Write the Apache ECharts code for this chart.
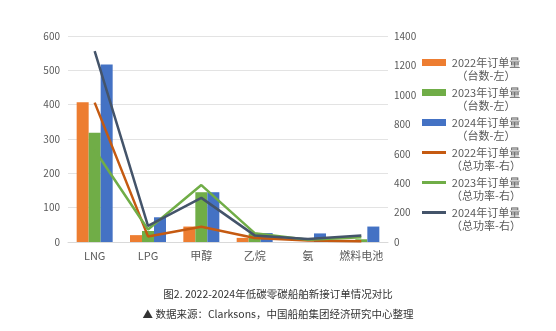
<!DOCTYPE html>
<html><head><meta charset="utf-8">
<script src="https://cdn.jsdelivr.net/npm/echarts@6/dist/echarts.min.js"></script>
<style>html,body{margin:0;padding:0;background:#fff;}#c{width:556px;height:331px;}</style>
</head><body><div id="c"></div>
<script>
const categories = ['LNG','LPG','甲醇','乙烷','氨','燃料电池'];
const units2022 = [407, 20, 45, 12, 0, 0];
const units2023 = [318, 32, 145, 25, 0, 8];
const units2024 = [517, 72, 145, 26, 25, 45];
const power2022 = [947, 38, 103, 27, 10, 5];
const power2023 = [625, 85, 387, 60, 15, 32];
const power2024 = [1297, 110, 300, 45, 20, 45];
const leftTicks = {min: 0, max: 600, interval: 100};
const rightTicks = {min: 0, max: 1400, interval: 200};
const names = ['2022年订单量（台数-左）','2023年订单量（台数-左）','2024年订单量（台数-左）','2022年订单量（总功率-右）','2023年订单量（总功率-右）','2024年订单量（总功率-右）'];
const titleText = '图2. 2022-2024年低碳零碳船舶新接订单情况对比';
const sourceText = '▲ 数据来源：Clarksons，中国船舶集团经济研究中心整理';

const font = '"Noto Sans CJK SC","Noto Sans",sans-serif';
const gray = '#595959';
const legendFmt = n => {
  const i = n.indexOf('（');
  return '{a|' + n.slice(0, i) + '}\n{b|' + n.slice(i) + '}';
};
const legendText = {
  color: gray, fontFamily: font, fontSize: 11, padding: [13,0,0,0],
  rich: {a: {width: 70, align: 'center', fontSize: 11, color: gray, fontFamily: font, lineHeight: 13},
         b: {width: 70, align: 'center', fontSize: 11, color: gray, fontFamily: font, lineHeight: 13}}
};
const chart = echarts.init(document.getElementById('c'));
chart.setOption({
  animation: false,
  backgroundColor: '#fff',
  grid: {left: 68, right: 168, top: 36, bottom: 89},
  title: [
    {text: titleText, left: 'center', top: 284, textStyle: {fontSize: 10.5, fontWeight: 'normal', color: '#333', fontFamily: font}},
    {text: sourceText, left: 'center', top: 304, textStyle: {fontSize: 10.5, fontWeight: 'normal', color: '#333', fontFamily: font}}
  ],
  legend: [
    {orient: 'vertical', left: 422, top: 57, padding: 0, itemWidth: 24, itemHeight: 7, itemGap: 6,
     data: names.slice(0,3).map(n => ({name: n, icon: 'rect'})), formatter: legendFmt, textStyle: legendText},
    {orient: 'vertical', left: 422, top: 147, padding: 0, itemWidth: 24, itemHeight: 3, itemGap: 6,
     data: names.slice(3).map(n => ({name: n, icon: 'rect'})), formatter: legendFmt, textStyle: legendText}
  ],
  xAxis: {type: 'category', data: categories,
    axisLine: {lineStyle: {color: '#d9d9d9'}}, axisTick: {show: false},
    axisLabel: {color: gray, fontSize: 11, fontFamily: font, margin: 8, interval: 0}},
  yAxis: [
    {type: 'value', min: leftTicks.min, max: leftTicks.max, interval: leftTicks.interval,
     axisLabel: {color: gray, fontSize: 10, fontFamily: font, margin: 8},
     splitLine: {lineStyle: {color: '#e3e3e3'}}, axisLine: {show: false}, axisTick: {show: false}},
    {type: 'value', min: rightTicks.min, max: rightTicks.max, interval: rightTicks.interval,
     axisLabel: {color: gray, fontSize: 10, fontFamily: font, margin: 6, formatter: v => String(v)},
     splitLine: {show: false}, axisLine: {show: false}, axisTick: {show: false}}
  ],
  series: [
    {name: names[0], type: 'bar', data: units2022, itemStyle: {color: '#ED7D31'}, barWidth: 12, barGap: '0%'},
    {name: names[1], type: 'bar', data: units2023, itemStyle: {color: '#70AD47'}, barWidth: 12, barGap: '0%'},
    {name: names[2], type: 'bar', data: units2024, itemStyle: {color: '#4472C4'}, barWidth: 12, barGap: '0%'},
    {name: names[3], type: 'line', yAxisIndex: 1, data: power2022, showSymbol: false, symbol: 'none', lineStyle: {color: '#C55A11', width: 2.5}, itemStyle: {color: '#C55A11'}},
    {name: names[4], type: 'line', yAxisIndex: 1, data: power2023, showSymbol: false, symbol: 'none', lineStyle: {color: '#70AD47', width: 2.5}, itemStyle: {color: '#70AD47'}},
    {name: names[5], type: 'line', yAxisIndex: 1, data: power2024, showSymbol: false, symbol: 'none', lineStyle: {color: '#44546A', width: 2.5}, itemStyle: {color: '#44546A'}}
  ]
});
</script></body></html>
